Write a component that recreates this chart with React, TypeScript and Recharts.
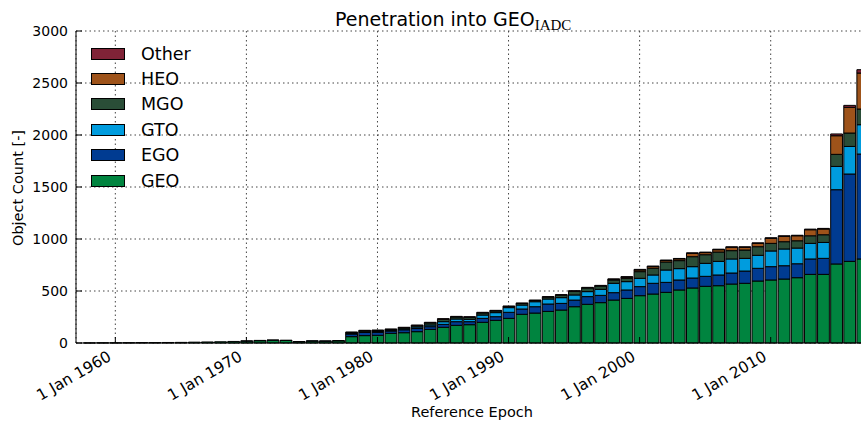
import React from 'react';
import { BarChart, Bar, XAxis, YAxis, CartesianGrid, Legend } from 'recharts';

const years = [
  1957, 1958, 1959, 1960, 1961, 1962, 1963, 1964, 1965, 1966, 1967, 1968, 1969,
  1970, 1971, 1972, 1973, 1974, 1975, 1976, 1977, 1978, 1979, 1980, 1981, 1982,
  1983, 1984, 1985, 1986, 1987, 1988, 1989, 1990, 1991, 1992, 1993, 1994, 1995,
  1996, 1997, 1998, 1999, 2000, 2001, 2002, 2003, 2004, 2005, 2006, 2007, 2008,
  2009, 2010, 2011, 2012, 2013, 2014, 2015, 2016, 2017,
];

const geo = [
  0, 1, 2, 2, 3, 4, 4, 5, 6, 8, 10, 12, 15, 18, 22, 26, 24, 12, 18, 17, 20,
  61, 71, 74, 93, 99, 109, 131, 151, 170, 176, 199, 218,
  237, 276, 288, 304, 317, 349, 372, 388, 413, 429,
  455, 471, 487, 510, 529, 545, 551, 567, 574, 596,
  606, 615, 628, 660, 660, 760, 785, 808,
];
const ego = [
  0, 0, 0, 0, 0, 0, 0, 0, 0, 0, 0, 0, 0, 2, 3, 3, 3, 2, 3, 3, 4,
  25, 30, 28, 22, 28, 30, 26, 28, 35, 29, 38, 35,
  58, 51, 61, 71, 64, 64, 74, 70, 71, 81,
  87, 103, 96, 96, 96, 96, 103, 106, 118, 122,
  128, 128, 134, 148, 154, 714, 840, 1009,
];
const gto = [
  0, 0, 0, 0, 0, 0, 0, 0, 0, 0, 0, 0, 0, 0, 0, 0, 0, 0, 0, 0, 0,
  5, 6, 8, 6, 8, 15, 16, 26, 26, 23, 32, 39,
  45, 38, 48, 48, 55, 49, 48, 58, 90, 80,
  80, 80, 119, 109, 109, 125, 131, 135, 122, 125,
  151, 161, 151, 150, 153, 224, 265, 282,
];
const mgo = [
  0, 0, 0, 0, 0, 0, 0, 0, 0, 0, 0, 0, 0, 0, 0, 0, 0, 0, 0, 0, 0,
  10, 10, 10, 9, 10, 12, 20, 23, 19, 19, 20, 16,
  10, 15, 12, 18, 24, 35, 35, 32, 32, 32,
  64, 64, 77, 77, 96, 83, 90, 80, 80, 83,
  73, 70, 70, 73, 74, 116, 129, 151,
];
const heo = [
  0, 0, 0, 0, 0, 0, 0, 0, 0, 0, 0, 0, 0, 0, 0, 0, 0, 0, 0, 0, 0,
  0, 0, 0, 0, 0, 0, 0, 0, 0, 0, 0, 0,
  0, 0, 0, 0, 0, 0, 0, 0, 5, 10,
  16, 16, 15, 17, 32, 20, 22, 32, 26, 32,
  48, 51, 48, 58, 55, 179, 247, 346,
];
const other = [
  0, 0, 0, 0, 0, 0, 0, 0, 0, 0, 0, 0, 0, 0, 0, 0, 0, 0, 0, 0, 0,
  5, 5, 5, 5, 6, 7, 6, 6, 6, 6, 6, 6,
  6, 5, 4, 5, 5, 6, 6, 6, 6, 6,
  6, 6, 3, 4, 5, 5, 5, 5, 5, 5,
  6, 6, 5, 6, 6, 17, 19, 32,
];

const yTicks = [0, 500, 1000, 1500, 2000, 2500, 3000];
const xTicks = [1960, 1970, 1980, 1990, 2000, 2010];
const xTickLabels = ['1 Jan 1960', '1 Jan 1970', '1 Jan 1980', '1 Jan 1990', '1 Jan 2000', '1 Jan 2010'];

// stacking order bottom -> top
const series = [
  { key: 'GEO', color: '#00843f' },
  { key: 'EGO', color: '#003b91' },
  { key: 'GTO', color: '#009cde' },
  { key: 'MGO', color: '#2a4d37' },
  { key: 'HEO', color: '#9e531a' },
  { key: 'Other', color: '#802337' },
];

const data = years.map((year, i) => ({
  year,
  GEO: geo[i],
  EGO: ego[i],
  GTO: gto[i],
  MGO: mgo[i],
  HEO: heo[i],
  Other: other[i],
}));

const FONT = '"DejaVu Sans", sans-serif';

const BottomTick = (props: any) => {
  const { x, y, payload } = props;
  const label = xTickLabels[xTicks.indexOf(payload.value)];
  const tx = x - 3;
  const ty = y + 16.5;
  return (
    <g>
      <line x1={x} y1={y} x2={x} y2={y - 6} stroke="#000" />
      <text x={tx} y={ty} textAnchor="end" transform={`rotate(-30, ${tx}, ${ty})`} fontSize={15.5} fontFamily={FONT} fill="#000">
        {label}
      </text>
    </g>
  );
};

const TopTick = (props: any) => {
  const { x, y } = props;
  return <line x1={x} y1={y} x2={x} y2={y + 6} stroke="#000" />;
};

const LeftTick = (props: any) => {
  const { x, y, payload } = props;
  return (
    <g>
      <line x1={x} y1={y} x2={x + 6} y2={y} stroke="#000" />
      <text x={x - 8} y={y + 5} textAnchor="end" fontSize={14} fontFamily={FONT} fill="#000">
        {payload.value}
      </text>
    </g>
  );
};

const renderLegend = () => (
  <div style={{ fontFamily: FONT, fontSize: 17.5 }}>
    {[...series].reverse().map((s) => (
      <div key={s.key} style={{ display: 'flex', alignItems: 'center', height: 25.4 }}>
        <div style={{ width: 34, height: 12, background: s.color, border: '1px solid #000', boxSizing: 'border-box' }} />
        <span style={{ marginLeft: 16, lineHeight: '18px' }}>{s.key}</span>
      </div>
    ))}
  </div>
);

export default function App() {
  return (
    <div style={{ position: 'fixed', left: 0, top: 0, width: 861, height: 423, overflow: 'hidden', background: '#fff' }}>
      <div style={{ position: 'absolute', left: 335, top: 8, fontFamily: FONT, fontSize: 19, whiteSpace: 'nowrap', color: '#000', lineHeight: 'normal' }}>
        Penetration into GEO
        <span style={{ fontFamily: '"Liberation Serif", serif', fontSize: 15, position: 'relative', top: 4 }}>IADC</span>
      </div>
      <div
        style={{
          position: 'absolute', left: 18, top: 188, fontFamily: FONT, fontSize: 14.5, whiteSpace: 'nowrap',
          transform: 'translate(-50%, -50%) rotate(-90deg)',
        }}
      >
        Object Count [-]
      </div>
      <div style={{ position: 'absolute', left: 472, top: 412, fontFamily: FONT, fontSize: 14.5, whiteSpace: 'nowrap', transform: 'translate(-50%, -50%)' }}>
        Reference Epoch
      </div>
      <BarChart
        width={889}
        height={423}
        data={data}
        margin={{ top: 31, right: 20, bottom: 0, left: 0 }}
        barCategoryGap={0}
        barGap={0}
      >
        <CartesianGrid stroke="#444" strokeDasharray="1.5 3" />
        <XAxis
          dataKey="year"
          type="number"
          domain={[1957.5, 2017.5]}
          ticks={xTicks}
          height={80}
          tickSize={0}
          tickMargin={0}
          tick={<BottomTick />}
          axisLine={{ stroke: '#000' }}
          interval={0}
        />
        <XAxis
          xAxisId="top"
          dataKey="year"
          type="number"
          orientation="top"
          domain={[1957.5, 2017.5]}
          ticks={xTicks}
          height={0}
          tickSize={0}
          tickMargin={0}
          tick={<TopTick />}
          axisLine={{ stroke: '#000' }}
          interval={0}
        />
        <YAxis
          domain={[0, 3000]}
          ticks={yTicks}
          width={76}
          tickSize={0}
          tickMargin={0}
          tick={<LeftTick />}
          axisLine={{ stroke: '#000' }}
          interval={0}
        />
        <Legend
          content={renderLegend}
          layout="horizontal"
          verticalAlign="middle"
          align="center"
          wrapperStyle={{ position: 'absolute', left: 91, top: 41, width: 120 }}
        />
        {series.map((s) => (
          <Bar
            key={s.key}
            dataKey={s.key}
            stackId="a"
            fill={s.color}
            stroke="#000"
            strokeWidth={1}
            barSize={13.2}
            isAnimationActive={false}
          />
        ))}
      </BarChart>
    </div>
  );
}
